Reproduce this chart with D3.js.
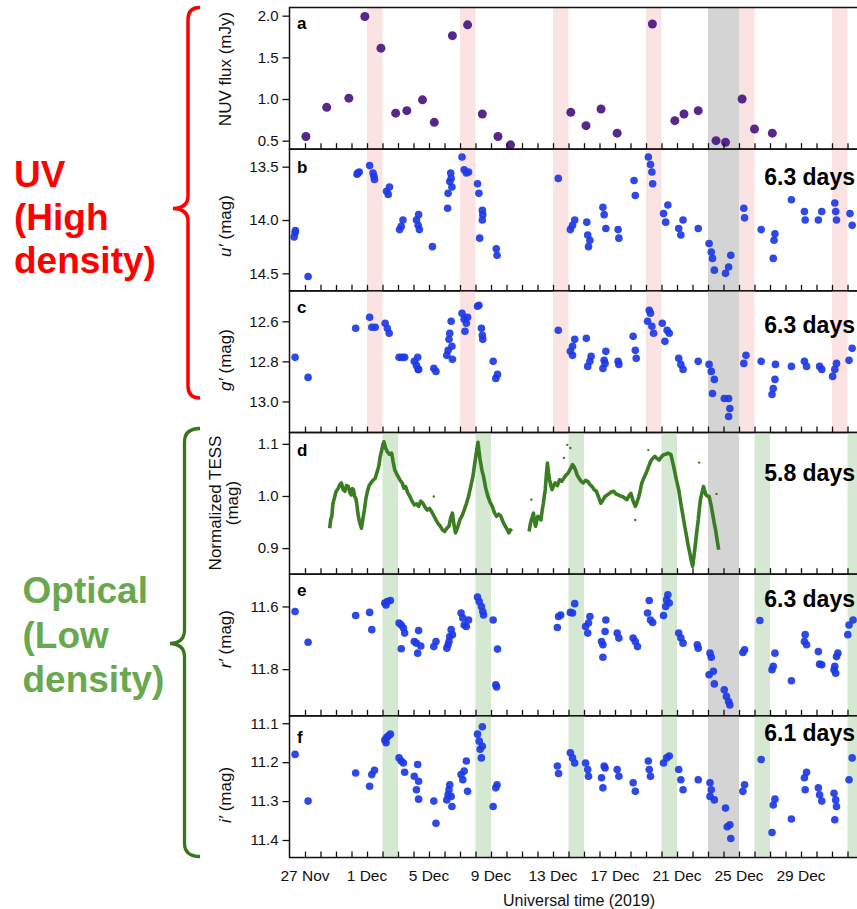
<!DOCTYPE html>
<html>
<head>
<meta charset="utf-8">
<script src="https://cdnjs.cloudflare.com/ajax/libs/d3/7.8.5/d3.min.js"></script>
<style>
  body { margin: 0; background: #fff; }
  svg { display: block; }
  text { font-family: "Liberation Sans", Arial, Helvetica, sans-serif; }
</style>
</head>
<body>
<svg id="chart" width="857" height="909"></svg>
<script>
// days counted from 27 Nov 2019 00:00 UT
const nuvDay  = [0.06,1.40,2.83,3.86,4.90,5.85,6.57,7.58,8.34,9.51,10.49,11.44,12.45,13.26,17.15,18.13,19.10,20.14,22.41,23.86,24.45,25.37,26.52,27.13,28.20,29.00,30.15];
const nuvFlux = [0.55,0.90,1.01,1.99,1.61,0.83,0.86,0.99,0.72,1.76,1.89,0.82,0.55,0.45,0.84,0.68,0.88,0.59,1.90,0.74,0.82,0.86,0.50,0.48,1.00,0.64,0.59];

const uDay = [-0.70,-0.64,-0.62,0.20, 3.36,3.41,3.50, 4.17, 4.39,4.45,4.48, 5.26,5.37,5.45, 6.10,6.21,6.32, 7.19,7.33,7.30,7.38, 8.22, 9.20, 9.23,9.34,9.43,9.48,9.40,
  10.13,10.27,10.41,10.55, 11.13,11.22,11.27, 11.44,11.47,11.44, 12.34,12.39, 16.34, 17.12,17.26,17.40, 18.18,18.24,18.29,18.38, 19.22,19.30,19.41, 20.20,20.25,
  21.23,21.31, 22.15,22.29,22.38,22.43, 23.13,23.27, 23.41, 24.11,24.25,24.39, 25.37, 26.07,26.21,26.29,26.41, 27.13,27.33,27.47, 28.31,28.36, 29.43,
  30.21,30.26,30.32, 31.38, 32.22,32.27, 33.12, 33.34, 34.18,34.24,34.29, 35.16,35.30];
const uMag = [14.16,14.12,14.10,14.53, 13.57,13.56,13.55, 13.49, 13.56,13.59,13.62, 13.73,13.76,13.69, 14.09,14.06,14.00, 14.00,13.95,14.05,14.09, 14.25, 13.89, 13.75,13.64,13.61,13.69,13.56,
  13.41,13.53,13.56,13.55, 13.66,13.75,14.17, 13.91,13.95,14.00, 14.27,14.33, 13.61, 14.09,14.05,14.00, 14.02,14.14,14.25,14.19, 13.88,13.95,14.08, 14.09,14.17,
  13.63,13.77, 13.41,13.48,13.55,13.66, 13.94,14.02, 13.86, 14.08,14.14,14.00, 14.08, 14.22,14.30,14.36,14.47, 14.50,14.44,14.33, 13.89,13.98, 14.09,
  14.36,14.19,14.13, 13.81, 13.92,14.00, 14.00, 13.92, 13.84,13.92,14.00, 13.94,14.05];

const gDay = [-0.64,0.20, 3.27, 4.17,4.31,4.53, 5.17,5.31,5.43, 6.07,6.27,6.43, 7.05,7.19,7.30,7.27,7.33, 8.31,8.45, 9.15,9.23,9.29,9.34,9.43,9.48,9.51,
  10.13,10.27,10.41,10.49,10.32, 11.13,11.22, 11.38,11.44,11.47, 12.14,12.31,12.42, 16.34, 17.12,17.26,17.40,17.26, 18.15, 18.24,18.38,18.46,
  19.22,19.30,19.41,19.36, 20.20,20.25, 21.17, 21.31,21.37, 22.10,22.21,22.29,22.38,22.49, 23.05,23.22,23.36,23.50, 24.11,24.25,24.39, 25.37,
  26.07,26.21,26.41, 26.29, 27.05,27.33,27.41,27.33, 28.31,28.45, 29.43, 30.13,30.21,30.32, 30.35, 31.38, 32.22,32.36, 33.20,33.34, 34.04,34.18,34.29, 35.10,35.30];
const gMag = [12.78,12.88, 12.635, 12.58,12.63,12.63, 12.61,12.635,12.66, 12.78,12.78,12.78, 12.80,12.82,12.84,12.78,12.84, 12.835,12.85, 12.77,12.745,12.69,12.66,12.60,12.725,12.79,
  12.56,12.59,12.61,12.58,12.65, 12.525,12.52, 12.635,12.67,12.69, 12.80,12.885,12.865, 12.645, 12.75,12.725,12.69,12.77, 12.685, 12.825,12.80,12.775,
  12.835,12.795,12.75,12.81, 12.80,12.815, 12.675, 12.745,12.785, 12.60,12.545,12.56,12.625,12.66, 12.61,12.70,12.645,12.66, 12.785,12.815,12.84, 12.80,
  12.815,12.85,12.89, 12.96, 12.985,12.985,13.035,13.075, 12.81,12.77, 12.80, 12.965,12.935,12.89, 12.815, 12.825, 12.80,12.825, 12.825,12.84, 12.875,12.84,12.81, 12.795,12.735];

const tess1Day = [1.59,1.66,1.73,1.80,1.87,2.00,2.15,2.25,2.35,2.46,2.57,2.68,2.80,2.90,2.99,3.06,3.13,3.20,3.27,3.34,3.41,3.52,3.64,3.73,3.83,3.93,4.03,4.14,4.25,4.39,4.53,4.64,4.76,4.85,4.95,5.02,5.09,5.20,5.31,5.45,
  5.59,5.69,5.79,5.90,6.01,6.14,6.27,6.38,6.49,6.63,6.77,6.91,7.05,7.19,7.33,7.47,7.61,7.75,7.89,8.03,8.17,8.31,8.45,8.59,8.73,8.87,9.01,9.15,9.29,9.40,9.51,9.61,9.71,9.85,9.99,10.13,10.27,10.41,10.55,10.69,
  10.83,10.93,11.02,11.09,11.16,11.23,11.30,11.41,11.52,11.66,11.80,11.94,12.08,12.22,12.36,12.50,12.64,12.78,12.92,13.04,13.15,13.25,13.34];
const tess1Mag = [0.938,0.955,0.961,0.985,0.993,1.008,1.015,1.022,1.025,1.012,1.009,1.020,1.018,1.006,1.002,1.014,1.012,0.999,0.996,0.985,0.967,0.950,0.938,0.955,0.973,0.995,1.009,1.020,1.025,1.030,1.034,1.045,1.057,1.075,1.088,1.098,1.104,1.092,1.085,1.080,
  1.082,1.065,1.050,1.043,1.037,1.030,1.025,1.015,1.018,1.006,0.999,0.990,0.983,0.985,0.980,0.990,0.986,0.978,0.973,0.976,0.970,0.962,0.954,0.947,0.942,0.935,0.932,0.938,0.942,0.958,0.967,0.945,0.929,0.940,0.954,0.962,0.973,0.985,0.999,1.018,
  1.037,1.058,1.076,1.090,1.103,1.085,1.069,1.050,1.037,1.015,0.999,0.988,0.980,0.968,0.961,0.965,0.961,0.950,0.942,0.936,0.929,0.935,0.932];
const tess2Day = [14.46,14.53,14.60,14.67,14.74,14.81,14.88,14.95,15.02,15.12,15.22,15.30,15.38,15.44,15.50,15.57,15.64,15.71,15.78,15.86,15.94,16.04,16.14,16.28,16.42,16.56,16.70,16.84,16.98,17.12,17.26,17.36,17.45,17.56,17.68,17.82,17.96,18.10,18.24,18.38,
  18.52,18.66,18.80,18.94,19.08,19.22,19.36,19.50,19.64,19.78,19.92,20.06,20.20,20.34,20.48,20.62,20.76,20.90,21.03,21.17,21.31,21.42,21.54,21.64,21.73,21.87,22.01,22.15,22.29,22.43,22.57,22.71,22.85,22.99,23.13,23.27,23.41,23.51,23.61,23.72,
  23.83,23.97,24.11,24.25,24.39,24.51,24.62,24.72,24.83,24.92,25.01,25.09,25.17,25.27,25.37,25.44,25.51,25.61,25.71,25.79,25.87,25.97,26.07,26.18,26.29,26.39,26.49,26.59,26.69];
const tess2Mag = [0.932,0.945,0.954,0.960,0.967,0.950,0.942,0.952,0.961,0.958,0.954,0.972,0.986,1.000,1.012,1.040,1.063,1.045,1.031,1.020,1.012,1.020,1.025,1.020,1.031,1.028,1.034,1.040,1.044,1.052,1.060,1.056,1.050,1.040,1.034,1.028,1.025,1.030,1.028,1.022,
  1.018,1.012,1.009,0.998,0.986,0.992,0.999,1.002,1.005,1.008,1.009,1.004,1.002,1.000,0.999,0.996,0.993,1.000,1.005,0.990,0.980,0.988,0.999,1.012,1.025,1.035,1.044,1.055,1.066,1.072,1.076,1.072,1.069,1.075,1.079,1.080,1.082,1.081,1.079,1.065,
  1.050,1.030,1.012,0.985,0.961,0.940,0.922,0.905,0.890,0.876,0.865,0.884,0.903,0.930,0.954,0.975,0.993,1.006,1.018,1.010,1.002,1.000,0.999,0.985,0.967,0.950,0.935,0.915,0.897];
const tessOutDay = [8.31,14.60,16.70,16.92,17.12,21.31,22.15,25.43,26.55];
const tessOutMag = [0.999,0.993,1.073,1.098,1.092,0.954,1.088,1.064,1.004];

const rDay = [-0.64,0.20,3.27,4.17,4.31, 5.15,5.31,5.51,5.23, 6.07,6.21,6.35,6.43, 6.21, 7.05,7.19,7.33,7.47,7.27, 8.31,8.45, 9.15,9.23,9.29,9.34,9.43,9.51,
  10.07,10.18,10.27,10.41,10.55, 11.13,11.24,11.38,11.47,11.52, 12.14, 12.31,12.36, 12.42, 16.28, 16.36,16.50, 17.26,17.40,17.12,
  18.10,18.24,18.38,18.29, 19.13,19.22,19.22,19.36,19.41, 20.14,20.25, 21.17,21.31,21.45, 22.10,22.21,22.29,22.43, 23.13,23.27,23.33,23.41,23.50,
  24.11,24.25,24.39, 25.31,25.37, 26.13,26.21, 26.07,26.35,26.41, 27.05,27.19,27.33,27.41, 28.25,28.36, 29.35, 30.13,30.21, 30.32, 31.38,
  32.22,32.27,32.36, 33.12,33.20,33.34, 34.13,34.18,34.24, 34.29,34.38, 35.02, 35.10, 35.36];
const rMag = [11.616,11.714,11.629,11.619,11.674, 11.589,11.584,11.581,11.595, 11.653,11.659,11.669,11.685, 11.735, 11.712,11.717,11.677,11.726,11.749, 11.728,11.712,
  11.733,11.722,11.712,11.696,11.674,11.690, 11.621,11.637,11.659,11.664,11.643, 11.570,11.584,11.600,11.616,11.627, 11.643, 11.850,11.857, 11.736, 11.667, 11.632,11.627,
  11.621,11.591,11.619, 11.664,11.685,11.632,11.653, 11.712,11.722,11.762,11.680,11.643, 11.685,11.701, 11.701,11.712,11.728, 11.621,11.581,11.643,11.651,
  11.629,11.600,11.579,11.563,11.589, 11.685,11.701,11.717, 11.722,11.733, 11.749,11.762, 11.818,11.807,11.847, 11.866,11.887,11.903,11.914, 11.747,11.738, 11.645,
  11.802,11.791, 11.749, 11.837, 11.712,11.690,11.722, 11.744,11.784,11.786, 11.802,11.791,11.813, 11.760,11.749, 11.690, 11.659, 11.643];

const iDay = [-0.64,0.20,3.27, 4.17,4.31,4.48, 5.15,5.26,5.37,5.51,5.23, 6.07,6.21,6.35,6.43, 7.05,7.19,7.27,7.33,7.33, 8.31,8.45,
  9.15,9.23,9.29,9.34,9.43,9.48, 10.07,10.18,10.27,10.41,10.49, 11.13,11.24,11.30,11.38,11.44,11.44, 12.14, 12.31,12.39, 16.28,16.36,
  17.12,17.26,17.40, 18.10,18.24,18.29, 19.13,19.30,19.22,19.36, 20.14,20.25, 21.17,21.31, 22.15,22.21,22.29, 23.13,23.33,23.50,
  24.11,24.25,24.39, 25.37, 26.13,26.21,26.13,26.41, 27.13, 27.24,27.41,27.47, 28.25,28.36, 29.43, 30.13,30.21,30.32, 31.38,
  32.22,32.27,32.36, 33.12,33.20,33.34, 34.13,34.24,34.29,34.18, 35.10,35.30];
const iMag = [11.180,11.300,11.228, 11.262,11.232,11.221, 11.143,11.137,11.133,11.128,11.150, 11.189,11.197,11.202,11.226, 11.236,11.271,11.206,11.249,11.295, 11.300,11.357,
  11.297,11.284,11.271,11.258,11.288,11.314, 11.232,11.245,11.223,11.197,11.275, 11.128,11.146,11.167,11.189,11.159,11.109, 11.314, 11.266,11.258, 11.210,11.229,
  11.176,11.189,11.202, 11.202,11.219,11.236, 11.240,11.210,11.266,11.215, 11.219,11.236, 11.253,11.275, 11.197,11.219,11.236, 11.202,11.189,11.184,
  11.219,11.245,11.271, 11.245, 11.253,11.271,11.288,11.297, 11.318, 11.366,11.361,11.396, 11.275,11.258, 11.193, 11.381,11.310,11.295, 11.346,
  11.240,11.271,11.226, 11.266,11.284,11.300, 11.280,11.297,11.314,11.348, 11.245,11.189];

// shaded bands (day start, 1 day wide) and the grey gap
const uvBandDays = [4, 10, 16, 22, 28, 34];
const optBandDays = [5, 11, 17, 23, 29, 35];
const gapDays = [26, 28];

const tickLabelDays = [0, 4, 8, 12, 16, 20, 24, 28, 32];
const periodLabels = ["", "6.3 days", "6.3 days", "5.8 days", "6.3 days", "6.1 days"];
const panelLetters = ["a", "b", "c", "d", "e", "f"];

const t0 = Date.UTC(2019, 10, 27);
const toDate = d => new Date(t0 + d * 864e5);

const svg = d3.select("#chart");
const x0 = 289.5, x1 = 863, top0 = 7.5, ph = 141.67;

const x = d3.scaleUtc().domain([toDate(-1), toDate(36)]).range([x0, x1]);

const blue = "#1d3ae6";
const panels = [
  { xs: nuvDay, ys: nuvFlux, dom: [0.398, 2.098], flip: false, ticks: [0.5, 1.0, 1.5, 2.0], color: "#4a1580", r: 4.5, bands: uvBandDays, bandColor: "#fce3e3",
    title: ["NUV flux (mJy)"], titleY: 69, letterDy: 21, periodDy: 0 },
  { xs: uDay, ys: uMag, dom: [13.336, 14.664], flip: true, ticks: [13.5, 14.0, 14.5], color: blue, r: 3.8, bands: uvBandDays, bandColor: "#fce3e3",
    title: ["u"], titleY: 226, letterDy: 23.5, periodDy: 36 },
  { xs: gDay, ys: gMag, dom: [12.448, 13.155], flip: true, ticks: [12.6, 12.8, 13.0], color: blue, r: 3.8, bands: uvBandDays, bandColor: "#fce3e3",
    title: ["g"], titleY: 360, letterDy: 22.5, periodDy: 42.5 },
  { xs: null, ys: null, dom: [0.85, 1.1217], flip: false, ticks: [0.9, 1.0, 1.1], color: "#3b7d22", r: 0, bands: optBandDays, bandColor: "#d5e8d2",
    title: ["Normalized TESS", "(mag)"], titleY: 503, letterDy: 23, periodDy: 48 },
  { xs: rDay, ys: rMag, dom: [11.497, 11.949], flip: true, ticks: [11.6, 11.8], color: blue, r: 3.8, bands: optBandDays, bandColor: "#d5e8d2",
    title: ["r"], titleY: 639, letterDy: 22, periodDy: 32.5 },
  { xs: iDay, ys: iMag, dom: [11.081, 11.445], flip: true, ticks: [11.1, 11.2, 11.3, 11.4], color: blue, r: 3.8, bands: optBandDays, bandColor: "#d5e8d2",
    title: ["i"], titleY: 795, letterDy: 27, periodDy: 25.5 }
];

panels.forEach((p, k) => {
  const top = top0 + k * ph, bot = top + ph;
  const y = d3.scaleLinear().domain(p.dom).range(p.flip ? [top, bot] : [bot, top]);
  const g = svg.append("g");

  g.selectAll("rect.band").data(p.bands).enter().append("rect")
    .attr("x", d => x(toDate(d)))
    .attr("width", d => x(toDate(d + 1)) - x(toDate(d)))
    .attr("y", top).attr("height", ph)
    .attr("fill", p.bandColor);
  g.append("rect")
    .attr("x", x(toDate(gapDays[0])))
    .attr("width", x(toDate(gapDays[1])) - x(toDate(gapDays[0])))
    .attr("y", top).attr("height", ph)
    .attr("fill", "#d4d4d4");

  if (p.xs) {
    g.selectAll("circle").data(p.xs.map((d, i) => [d, p.ys[i]])).enter().append("circle")
      .attr("cx", d => x(toDate(d[0])))
      .attr("cy", d => y(d[1]))
      .attr("r", p.r)
      .attr("fill", p.color)
      .attr("fill-opacity", 0.92);
  } else {
    const line = d3.line().x(d => x(toDate(d[0]))).y(d => y(d[1]));
    [[tess1Day, tess1Mag], [tess2Day, tess2Mag]].forEach(([ds, ms]) => {
      g.append("path")
        .datum(ds.map((d, i) => [d, ms[i]]))
        .attr("d", line)
        .attr("fill", "none")
        .attr("stroke", p.color)
        .attr("stroke-width", 3.6)
        .attr("stroke-linejoin", "round");
    });
    g.selectAll("circle").data(tessOutDay.map((d, i) => [d, tessOutMag[i]])).enter().append("circle")
      .attr("cx", d => x(toDate(d[0])))
      .attr("cy", d => y(d[1]))
      .attr("r", 1.2)
      .attr("fill", p.color);
  }

  // frame
  g.append("rect").attr("x", x0).attr("y", top).attr("width", x1 - x0).attr("height", ph)
    .attr("fill", "none").attr("stroke", "#111").attr("stroke-width", 1.5);

  // y axis
  const ya = g.append("g").attr("transform", `translate(${x0},0)`)
    .call(d3.axisLeft(y).tickValues(p.ticks).tickSize(7).tickPadding(4).tickFormat(d3.format(".1f")));
  ya.select(".domain").remove();
  ya.selectAll("line").attr("stroke", "#111").attr("stroke-width", 1.3);
  ya.selectAll("text").attr("font-size", 15).attr("fill", "#111");

  // x ticks, pointing inward
  const xa = g.append("g").attr("transform", `translate(0,${bot})`)
    .call(d3.axisBottom(x).tickValues(d3.range(0, 36).map(toDate)).tickSize(-6).tickFormat(""));
  xa.select(".domain").remove();
  xa.selectAll("line").attr("stroke", "#111").attr("stroke-width", 1.3);

  // panel letter
  g.append("text").attr("x", 297).attr("y", top + p.letterDy)
    .attr("font-size", 17).attr("font-weight", "bold").attr("fill", "#000").text(panelLetters[k]);

  if (periodLabels[k]) {
    g.append("text").attr("x", 855).attr("y", top + p.periodDy).attr("text-anchor", "end")
      .attr("font-size", 23).attr("font-weight", "bold").attr("fill", "#000").text(periodLabels[k]);
  }

  // y title
  if (p.title.length === 2) {
    p.title.forEach((t, j) => {
      g.append("text").attr("transform", `translate(${[221, 238][j]},${p.titleY}) rotate(-90)`)
        .attr("text-anchor", "middle").attr("font-size", 17).attr("fill", "#111").text(t);
    });
  } else if (p.title[0].length > 1) {
    g.append("text").attr("transform", `translate(231,${p.titleY}) rotate(-90)`)
      .attr("text-anchor", "middle").attr("font-size", 17).attr("fill", "#111").text(p.title[0]);
  } else {
    const t = g.append("text").attr("transform", `translate(231,${p.titleY}) rotate(-90)`)
      .attr("text-anchor", "middle").attr("font-size", 17).attr("fill", "#111");
    t.append("tspan").attr("font-style", "italic").text(p.title[0] + "\u2032");
    t.append("tspan").text(" (mag)");
  }
});

// bottom tick labels
const fmt = d3.utcFormat("%-d %b");
svg.append("g").selectAll("text").data(tickLabelDays).enter().append("text")
  .attr("x", d => x(toDate(d)))
  .attr("y", 880.5)
  .attr("text-anchor", "middle")
  .attr("font-size", 15.5)
  .attr("fill", "#111")
  .text(d => fmt(toDate(d)));

svg.append("text").attr("x", 579).attr("y", 906).attr("text-anchor", "middle")
  .attr("font-size", 16).attr("fill", "#111").text("Universal time (2019)");

// braces and group labels
svg.append("path")
  .attr("d", "M200,7.5 Q188,7.5 188,19.5 L188,196 Q188,208 173,208.5 Q188,209 188,221 L188,386 Q188,398 200,398")
  .attr("fill", "none").attr("stroke", "#ff0000").attr("stroke-width", 3.5);
svg.append("path")
  .attr("d", "M200,428.5 Q184.5,428.5 184.5,442 L184.5,630 Q184.5,643 170,643.5 Q184.5,644 184.5,657 L184.5,843 Q184.5,856.5 200,856.5")
  .attr("fill", "none").attr("stroke", "#38761d").attr("stroke-width", 3.3);

const uvLines = ["UV", "(High", "density)"];
const optLines = ["Optical", "(Low", "density)"];
svg.append("g").selectAll("text").data(uvLines).enter().append("text")
  .attr("x", 14).attr("y", (d, i) => 187 + i * 43)
  .attr("font-size", 37).attr("font-weight", "bold").attr("fill", "#ff0000").text(d => d);
svg.append("g").selectAll("text").data(optLines).enter().append("text")
  .attr("x", 22.5).attr("y", (d, i) => 603 + i * 44.5)
  .attr("font-size", 37).attr("font-weight", "bold").attr("fill", "#6aa84f").text(d => d);
</script>
</body>
</html>
